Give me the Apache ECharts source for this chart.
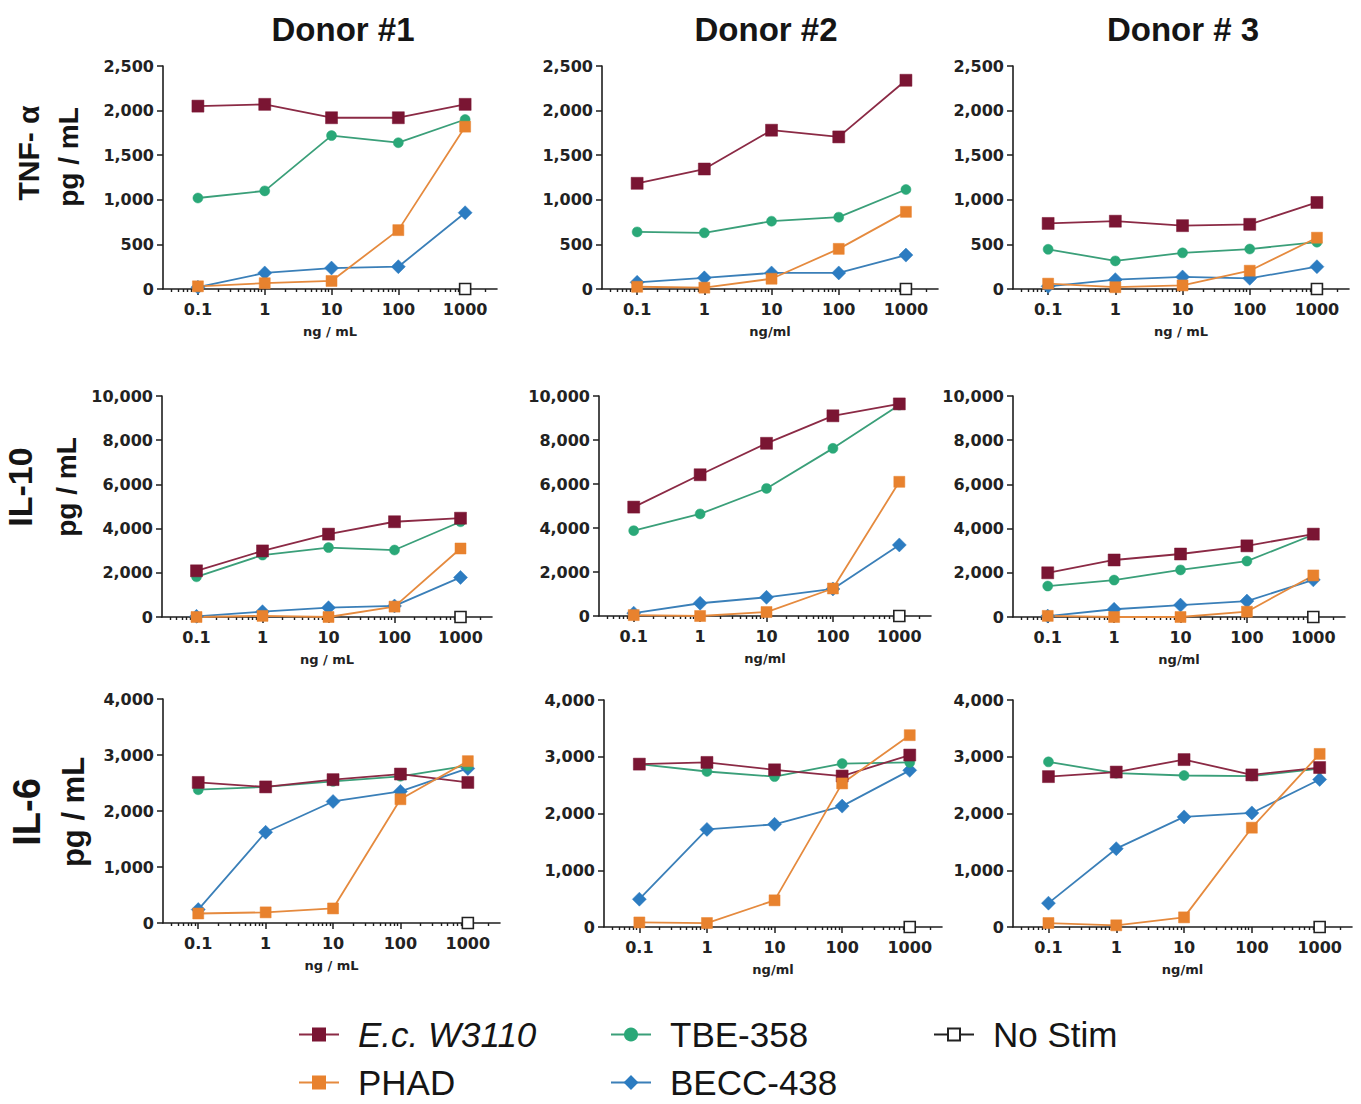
<!DOCTYPE html>
<html>
<head>
<meta charset="utf-8">
<title>Cytokine release by donor</title>
<script src="https://cdn.jsdelivr.net/npm/echarts@6/dist/echarts.min.js"></script>
</head>
<body style="margin:0;background:#fff;">
<div id="main" style="width:1361px;height:1104px;"></div>
<script type="text/javascript">
// doses on the x axis, ng/mL
var doses = [0.1, 1, 10, 100, 1000];
var xTickValues = [0.1, 1, 10, 100, 1000];
var donors = ['Donor #1', 'Donor #2', 'Donor # 3'];
var cytokines = ['TNF- α', 'IL-10', 'IL-6'];
var unitNames = [
    ['ng / mL', 'ng/ml', 'ng / mL'],
    ['ng / mL', 'ng/ml', 'ng/ml'],
    ['ng / mL', 'ng/ml', 'ng/ml']
];
var yMax = [2500, 10000, 4000];
var yStep = [500, 2000, 1000];

// one row per donor, values at the 5 doses (pg/mL)
var tnfEc = [[2050, 2070, 1920, 1920, 2070], [1185, 1345, 1780, 1705, 2340], [735, 760, 710, 725, 970]];
var tnfPhad = [[30, 65, 90, 660, 1820], [25, 15, 115, 450, 865], [60, 20, 40, 205, 575]];
var tnfTbe = [[1020, 1100, 1720, 1640, 1900], [640, 630, 760, 805, 1115], [445, 315, 405, 448, 525]];
var tnfBecc = [[20, 180, 235, 250, 855], [75, 125, 180, 180, 380], [30, 105, 135, 120, 250]];

var il10Ec = [[2090, 2990, 3750, 4310, 4470], [4950, 6420, 7850, 9100, 9640], [2000, 2580, 2850, 3220, 3750]];
var il10Phad = [[0, 50, 0, 470, 3100], [40, 0, 180, 1250, 6100], [50, 0, 0, 240, 1880]];
var il10Tbe = [[1820, 2800, 3140, 3030, 4310], [3880, 4640, 5800, 7620, 9590], [1400, 1670, 2130, 2530, 3720]];
var il10Becc = [[30, 240, 420, 500, 1790], [130, 580, 850, 1230, 3230], [40, 350, 540, 720, 1680]];

var il6Ec = [[2510, 2430, 2560, 2660, 2510], [2870, 2900, 2770, 2660, 3030], [2650, 2730, 2950, 2680, 2810]];
var il6Phad = [[170, 190, 260, 2210, 2890], [80, 70, 470, 2530, 3380], [70, 30, 170, 1750, 3050]];
var il6Tbe = [[2380, 2430, 2530, 2620, 2810], [2870, 2740, 2650, 2880, 2900], [2910, 2710, 2670, 2660, 2790]];
var il6Becc = [[240, 1620, 2170, 2350, 2760], [490, 1720, 1810, 2130, 2760], [420, 1380, 1940, 2010, 2600]];

// unstimulated control, measured only at the top dose position
var noStimDose = 1000;
var noStimValues = [[0, 0, 0], [0, 0, 0], [0, 0, 0]];

var ecValues = [tnfEc, il10Ec, il6Ec];
var phadValues = [tnfPhad, il10Phad, il6Phad];
var tbeValues = [tnfTbe, il10Tbe, il6Tbe];
var beccValues = [tnfBecc, il10Becc, il6Becc];

// minor log ticks 2..9 in each decade
var minorTicks = [];
for (var e = -2; e <= 3; e++) {
    for (var k = 2; k <= 9; k++) {
        var v = +(k * Math.pow(10, e)).toPrecision(3);
        if (v > 0.03 && v < 3000) minorTicks.push(v);
    }
}

var gridBoxes = [
    {left: 163, top: 66, width: 334, height: 223},
    {left: 602, top: 66, width: 336, height: 223},
    {left: 1013, top: 66, width: 336, height: 223},
    {left: 162, top: 396, width: 330, height: 221},
    {left: 599, top: 396, width: 332, height: 220},
    {left: 1013, top: 396, width: 332, height: 221},
    {left: 163, top: 699, width: 337, height: 224},
    {left: 604, top: 700, width: 338, height: 227},
    {left: 1013, top: 700, width: 339, height: 227}
];

var axisColor = '#1e1e1e';
var labelFamily = 'DejaVu Sans';

var styles = {
    ec: {name: 'E.c. W3110', symbol: 'rect', size: 12, color: '#7a1533', line: '#8b2a45'},
    phad: {name: 'PHAD', symbol: 'rect', size: 11, color: '#e8822e', line: '#e58a3e'},
    tbe: {name: 'TBE-358', symbol: 'circle', size: 10, color: '#2aa878', line: '#3a9f79'},
    becc: {name: 'BECC-438', symbol: 'diamond', size: 14, color: '#2c7cc1', line: '#3a7fb8'}
};

function lineSeries(st, idx, vals) {
    return {
        name: st.name,
        type: 'line',
        xAxisIndex: idx * 2,
        yAxisIndex: idx,
        symbol: st.symbol,
        symbolSize: st.size,
        data: doses.map(function (d, i) { return [d, vals[i]]; }),
        itemStyle: {color: st.color, borderColor: st.color, borderWidth: 0.5},
        lineStyle: {color: st.line, width: 1.8},
        emphasis: {disabled: true}
    };
}

var grid = [], xAxis = [], yAxis = [], series = [];
for (var r = 0; r < 3; r++) {
    for (var c = 0; c < 3; c++) {
        var idx = r * 3 + c;
        grid.push(gridBoxes[idx]);
        xAxis.push({
            type: 'log', gridIndex: idx, min: 0.03, max: 3000, position: 'bottom',
            axisLine: {onZero: false, lineStyle: {color: axisColor, width: 1.6}},
            axisTick: {customValues: xTickValues, length: 6, lineStyle: {color: axisColor, width: 1.5}},
            axisLabel: {
                customValues: xTickValues, margin: 12,
                formatter: function (v) { return String(+(+v).toPrecision(4)); },
                fontFamily: labelFamily, fontWeight: 'bold', fontSize: 16, color: '#222'
            },
            splitLine: {show: false},
            name: unitNames[r][c], nameLocation: 'middle', nameGap: 36,
            nameTextStyle: {fontFamily: labelFamily, fontWeight: 'bold', fontSize: 13, color: '#222'}
        });
        xAxis.push({
            type: 'log', gridIndex: idx, min: 0.03, max: 3000, position: 'bottom',
            axisLine: {show: false},
            axisTick: {customValues: minorTicks, length: 3, lineStyle: {color: axisColor, width: 1.4}},
            axisLabel: {show: false},
            splitLine: {show: false}
        });
        yAxis.push({
            type: 'value', gridIndex: idx, min: 0, max: yMax[r], interval: yStep[r],
            axisLine: {show: true, lineStyle: {color: axisColor, width: 1.6}},
            axisTick: {show: true, length: 6, lineStyle: {color: axisColor, width: 1.5}},
            axisLabel: {margin: 9, fontFamily: labelFamily, fontWeight: 'bold', fontSize: 16, color: '#222'},
            splitLine: {show: false}
        });
        series.push(lineSeries(styles.becc, idx, beccValues[r][c]));
        series.push(lineSeries(styles.tbe, idx, tbeValues[r][c]));
        series.push(lineSeries(styles.ec, idx, ecValues[r][c]));
        series.push(lineSeries(styles.phad, idx, phadValues[r][c]));
        series.push({
            name: 'No Stim', type: 'line', xAxisIndex: idx * 2, yAxisIndex: idx,
            symbol: 'rect', symbolSize: 11,
            data: [[noStimDose, noStimValues[r][c]]],
            itemStyle: {color: '#ffffff', borderColor: '#222', borderWidth: 1.6},
            lineStyle: {color: '#222', width: 1.8},
            emphasis: {disabled: true}
        });
    }
}

var graphics = [];
var titleX = [343, 766, 1183];
donors.forEach(function (d, i) {
    graphics.push({
        type: 'text', x: titleX[i], y: 29,
        style: {text: d, font: 'bold 33px "Liberation Sans", Arial, sans-serif', fill: '#151515',
            textAlign: 'center', textVerticalAlign: 'middle'}
    });
});
var rowLabels = [
    {x: 28, y: 153, size: 30, unitX: 68, unitY: 157, unitSize: 28},
    {x: 20, y: 487, size: 34, unitX: 66, unitY: 487, unitSize: 28},
    {x: 27, y: 812, size: 38, unitX: 73, unitY: 812, unitSize: 31}
];
cytokines.forEach(function (name, i) {
    var p = rowLabels[i];
    graphics.push({
        type: 'text', x: p.x, y: p.y, rotation: Math.PI / 2,
        style: {text: name, font: 'bold ' + p.size + 'px "Liberation Sans", Arial, sans-serif', fill: '#151515',
            textAlign: 'center', textVerticalAlign: 'middle'}
    });
    graphics.push({
        type: 'text', x: p.unitX, y: p.unitY, rotation: Math.PI / 2,
        style: {text: 'pg / mL', font: 'bold ' + p.unitSize + 'px "Liberation Sans", Arial, sans-serif', fill: '#151515',
            textAlign: 'center', textVerticalAlign: 'middle'}
    });
});

// one legend box per entry, laid out as in the figure (2 rows)
function legendItem(name, left, top) {
    return {
        data: [name], left: left, top: top, padding: 0,
        itemWidth: 40, itemHeight: 15, selectedMode: false,
        formatter: function (n) { return n === 'E.c. W3110' ? '{it|' + n + '}' : n; },
        textStyle: {
            fontFamily: 'Liberation Sans', fontSize: 35, color: '#151515', padding: [0, 0, 0, 14],
            rich: {it: {fontFamily: 'Liberation Sans', fontStyle: 'italic', fontSize: 35, color: '#151515'}}
        }
    };
}

var myChart = echarts.init(document.getElementById('main'), null, {renderer: 'svg'});
var option = {
    animation: false,
    backgroundColor: '#ffffff',
    grid: grid,
    xAxis: xAxis,
    yAxis: yAxis,
    series: series,
    legend: [
        legendItem('E.c. W3110', 298, 1017),
        legendItem('PHAD', 298, 1065),
        legendItem('TBE-358', 610, 1017),
        legendItem('BECC-438', 610, 1065),
        legendItem('No Stim', 933, 1017)
    ],
    graphic: {elements: graphics}
};
myChart.setOption(option);
</script>
</body>
</html>
